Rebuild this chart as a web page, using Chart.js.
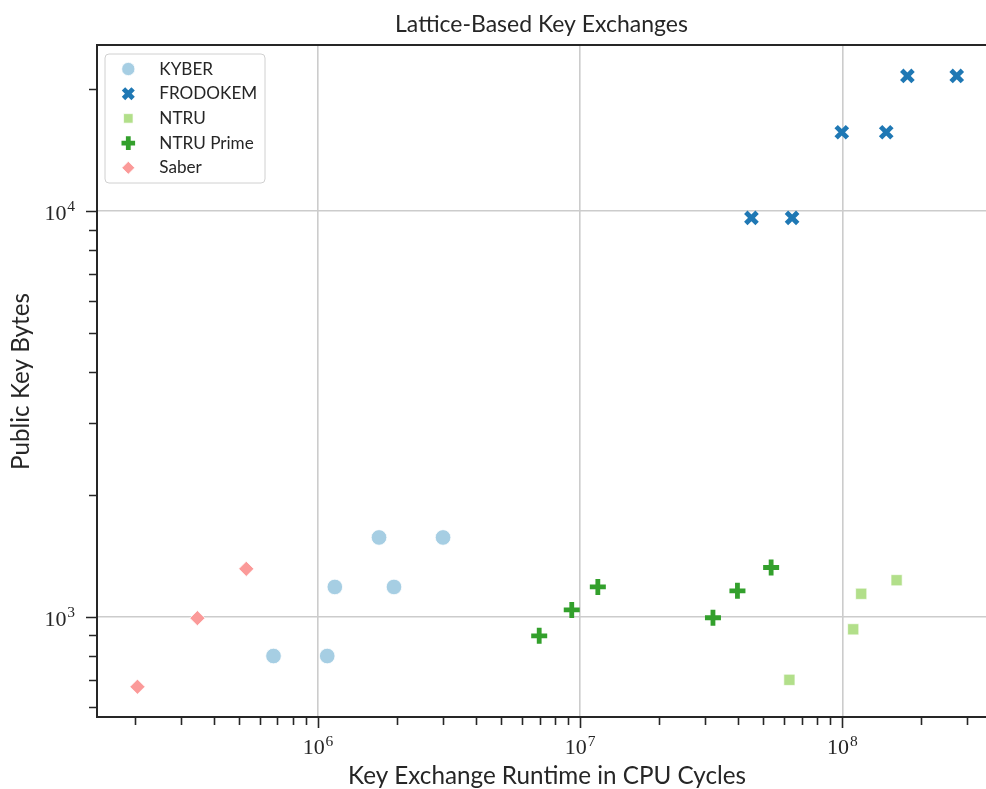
<!DOCTYPE html>
<html><head><meta charset="utf-8">
<script src="https://cdn.jsdelivr.net/npm/chart.js@4.4.1/dist/chart.umd.min.js"></script>
<style>html,body{margin:0;padding:0;background:#fff;overflow:hidden}canvas{display:block}</style>
</head><body>
<canvas id="c" width="986" height="789"></canvas>
<script>
// ---------- data ----------
const seriesNames = ['KYBER', 'FRODOKEM', 'NTRU', 'NTRU Prime', 'Saber'];

const kyberX = [1.71e6, 3.00e6, 1.16e6, 1.95e6, 6.77e5, 1.085e6];
const kyberY = [1568, 1568, 1184, 1184, 800, 800];

const frodoX = [1.77e8, 2.73e8, 9.95e7, 1.47e8, 4.50e7, 6.43e7];
const frodoY = [21520, 21520, 15632, 15632, 9616, 9616];

const ntruX = [6.28e7, 1.10e8, 1.18e8, 1.61e8];
const ntruY = [699, 931, 1139, 1230];

const ntruPrimeX = [6.98e6, 9.29e6, 1.168e7, 3.21e7, 3.98e7, 5.35e7];
const ntruPrimeY = [897, 1039, 1184, 994, 1158, 1322];

const saberX = [2.05e5, 3.47e5, 5.33e5];
const saberY = [672, 992, 1312];

const xMajorTicks = [1e6, 1e7, 1e8];
const xTickExponents = ['6', '7', '8'];
const yMajorTicks = [1e3, 1e4];
const yTickExponents = ['3', '4'];

const chartTitle = 'Lattice-Based Key Exchanges';
const xTitle = 'Key Exchange Runtime in CPU Cycles';
const yTitle = 'Public Key Bytes';

// ---------- styling ----------
const INK = '#262626';
const GRID = '#cccccc';
const SANS = 'Lato';
const SERIF = '"Liberation Serif"';
const xMin = 1.437e5, xMax = 3.53e8, yMin = 566, yMax = 25650;

function pts(xs, ys) { return xs.map((x, i) => ({ x: x, y: ys[i] })); }

const seriesStyles = [
  { pointStyle: 'circle', radius: 7.8, backgroundColor: '#a6cee3', borderColor: '#ffffff', borderWidth: 0.8 },
  { pointStyle: 'crossRot', radius: 8, backgroundColor: '#1f78b4', borderColor: '#1f78b4', borderWidth: 4.8 },
  { pointStyle: 'rect', radius: 7.9, backgroundColor: '#b2df8a', borderColor: '#ffffff', borderWidth: 0.7 },
  { pointStyle: 'cross', radius: 8, backgroundColor: '#33a02c', borderColor: '#33a02c', borderWidth: 4.8 },
  { pointStyle: 'rectRot', radius: 7.6, backgroundColor: '#fb9a99', borderColor: '#ffffff', borderWidth: 0.8 }
];
const seriesData = [pts(kyberX, kyberY), pts(frodoX, frodoY), pts(ntruX, ntruY), pts(ntruPrimeX, ntruPrimeY), pts(saberX, saberY)];

const datasets = seriesNames.map((name, i) => {
  const s = seriesStyles[i];
  return {
    label: name, data: seriesData[i],
    pointStyle: s.pointStyle, pointRadius: s.radius, pointHoverRadius: s.radius,
    pointBackgroundColor: s.backgroundColor, pointBorderColor: s.borderColor,
    pointBorderWidth: s.borderWidth, showLine: false
  };
});

// font fitting helper
const mctx = document.createElement('canvas').getContext('2d');
function fitSize(text, family, target) {
  mctx.font = '100px ' + family;
  return 100 * target / mctx.measureText(text).width;
}
const titleSize = fitSize(chartTitle, SANS, 293);
const xTitleSize = fitSize(xTitle, SANS, 398);
const yTitleSize = fitSize(yTitle, SANS, 177);
const legendSize = fitSize('FRODOKEM', SANS, 98);

function minorValues(lo, hi) {
  const out = [];
  for (let e = Math.floor(Math.log10(lo)); e <= Math.ceil(Math.log10(hi)); e++) {
    for (let m = 2; m <= 9; m++) { const v = m * Math.pow(10, e); if (v > lo && v < hi) out.push(v); }
  }
  return out;
}

function drawPow(ctx, exp, x, y, align) {
  const F1 = 22, F2 = 15.5, gap = 0.8, rise = 8.5;
  ctx.font = F1 + 'px ' + SERIF; const w1 = ctx.measureText('10').width;
  ctx.font = F2 + 'px ' + SERIF; const w2 = ctx.measureText(exp).width;
  const total = w1 + gap + w2;
  const sx = align === 'center' ? x - total / 2 : x - total;
  ctx.textAlign = 'left'; ctx.textBaseline = 'alphabetic';
  ctx.font = F1 + 'px ' + SERIF; ctx.fillText('10', sx, y);
  ctx.font = F2 + 'px ' + SERIF; ctx.fillText(exp, sx + w1 + gap, y - rise);
}

const decor = {
  id: 'decor',
  afterDraw(chart) {
    const ctx = chart.ctx, a = chart.chartArea, xs = chart.scales.x, ys = chart.scales.y;
    ctx.save();
    // spines
    ctx.strokeStyle = INK; ctx.lineWidth = 2; ctx.lineCap = 'square';
    ctx.beginPath();
    ctx.moveTo(a.right + 2, a.top); ctx.lineTo(a.left, a.top); ctx.lineTo(a.left, a.bottom); ctx.lineTo(a.right + 2, a.bottom);
    ctx.stroke();
    // ticks
    ctx.lineCap = 'butt'; ctx.lineWidth = 1.6;
    ctx.beginPath();
    xMajorTicks.forEach(v => { const p = Math.round(xs.getPixelForValue(v)) + 0.5; ctx.moveTo(p, a.bottom); ctx.lineTo(p, a.bottom + 11); });
    minorValues(xMin, xMax).forEach(v => { const p = Math.round(xs.getPixelForValue(v)) + 0.5; ctx.moveTo(p, a.bottom); ctx.lineTo(p, a.bottom + 8); });
    yMajorTicks.forEach(v => { const p = Math.round(ys.getPixelForValue(v)) + 0.5; ctx.moveTo(a.left, p); ctx.lineTo(a.left - 11, p); });
    minorValues(yMin, yMax).forEach(v => { const p = Math.round(ys.getPixelForValue(v)) + 0.5; ctx.moveTo(a.left, p); ctx.lineTo(a.left - 8, p); });
    ctx.stroke();
    // tick labels
    ctx.fillStyle = INK;
    xMajorTicks.forEach((v, i) => drawPow(ctx, xTickExponents[i], xs.getPixelForValue(v), a.bottom + 37, 'center'));
    yMajorTicks.forEach((v, i) => drawPow(ctx, yTickExponents[i], a.left - 22, ys.getPixelForValue(v) + 9, 'right'));
    // titles
    ctx.textBaseline = 'alphabetic'; ctx.textAlign = 'center';
    ctx.font = titleSize + 'px ' + SANS; ctx.fillText(chartTitle, 541.5, 31.5);
    ctx.font = xTitleSize + 'px ' + SANS; ctx.fillText(xTitle, 547, 784);
    ctx.save(); ctx.translate(28.5, 381.5); ctx.rotate(-Math.PI / 2);
    ctx.font = yTitleSize + 'px ' + SANS; ctx.fillText(yTitle, 0, 0); ctx.restore();
    // legend
    const bx = 105, by = 54, bw = 160, bh = 129, r = 4;
    ctx.beginPath();
    ctx.moveTo(bx + r, by); ctx.lineTo(bx + bw - r, by); ctx.arcTo(bx + bw, by, bx + bw, by + r, r);
    ctx.lineTo(bx + bw, by + bh - r); ctx.arcTo(bx + bw, by + bh, bx + bw - r, by + bh, r);
    ctx.lineTo(bx + r, by + bh); ctx.arcTo(bx, by + bh, bx, by + bh - r, r);
    ctx.lineTo(bx, by + r); ctx.arcTo(bx, by, bx + r, by, r); ctx.closePath();
    ctx.fillStyle = 'rgba(255,255,255,0.85)'; ctx.fill();
    ctx.strokeStyle = '#d0d0d0'; ctx.lineWidth = 1; ctx.stroke();
    seriesNames.forEach((name, i) => {
      const cy = 69 + i * 24.7, s = seriesStyles[i];
      ctx.save();
      ctx.fillStyle = s.backgroundColor; ctx.strokeStyle = s.borderColor; ctx.lineWidth = s.borderWidth;
      Chart.helpers.drawPoint(ctx, { pointStyle: s.pointStyle, radius: s.radius * 0.85, rotation: 0, borderWidth: s.borderWidth }, 128.3, cy);
      ctx.restore();
      ctx.fillStyle = INK; ctx.textAlign = 'left'; ctx.textBaseline = 'alphabetic';
      ctx.font = legendSize + 'px ' + SANS; ctx.fillText(name, 159.3, cy + 5.5);
    });
    ctx.restore();
  }
};

new Chart(document.getElementById('c'), {
  type: 'scatter',
  data: { datasets: datasets },
  options: {
    responsive: false, animation: false, events: [],
    layout: { autoPadding: false, padding: { left: 97, top: 45, right: 0, bottom: 72 } },
    plugins: { legend: { display: false }, title: { display: false }, tooltip: { enabled: false } },
    scales: {
      x: {
        type: 'logarithmic', min: xMin, max: xMax,
        afterBuildTicks: s => { s.ticks = xMajorTicks.map(v => ({ value: v })); },
        afterFit: s => { s.height = 0; },
        ticks: { display: false },
        grid: { color: GRID, lineWidth: 1.6, drawTicks: false },
        border: { display: false }
      },
      y: {
        type: 'logarithmic', min: yMin, max: yMax,
        afterBuildTicks: s => { s.ticks = yMajorTicks.map(v => ({ value: v })); },
        afterFit: s => { s.width = 0; },
        ticks: { display: false },
        grid: { color: GRID, lineWidth: 1.6, drawTicks: false },
        border: { display: false }
      }
    }
  },
  plugins: [decor]
});
</script>
</body></html>
